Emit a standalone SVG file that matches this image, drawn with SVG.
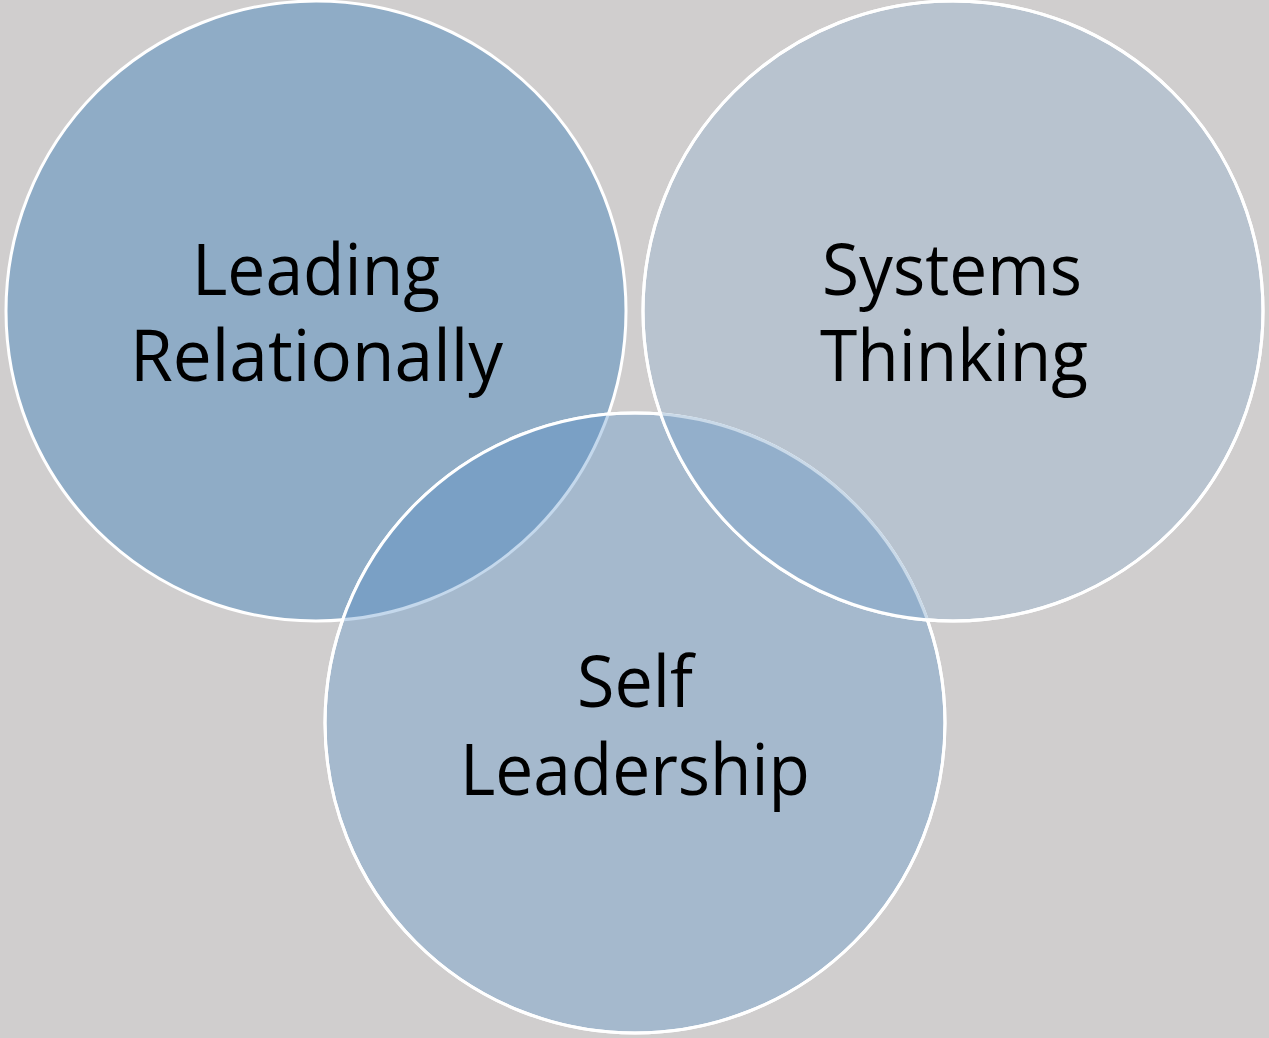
<svg xmlns="http://www.w3.org/2000/svg" width="1269" height="1038" viewBox="0 0 1269 1038">
  <style>
    .edge { stroke: #ffffff; stroke-width: 3; }
    .label { font-family: "Open Sans", "Noto Sans", "Liberation Sans", sans-serif; font-size: 72px; fill: #000000; text-anchor: middle; }
  </style>
  <defs>
    <clipPath id="clipSelf"><circle cx="635" cy="723" r="310"/></clipPath>
    <clipPath id="clipSystems"><circle cx="953" cy="311" r="310"/></clipPath>
  </defs>
  <rect width="1269" height="1038" fill="#d0cece"/>

  <g id="node-leading-relationally">
    <circle cx="316" cy="311" r="310" fill="#8facc6" class="edge"/>
  </g>
  <g id="node-self-leadership">
    <circle cx="635" cy="723" r="310" fill="#a5b9cd" class="edge"/>
  </g>
  <g id="node-systems-thinking">
    <circle cx="953" cy="311" r="310" fill="#b8c3cf" class="edge"/>
  </g>

  <g id="connectors">
    <g id="overlap-leading-self" clip-path="url(#clipSelf)">
      <circle cx="316" cy="311" r="310" fill="#7aa0c5" stroke="#c4d8ec" stroke-width="3"/>
    </g>
    <circle cx="635" cy="723" r="310" fill="none" class="edge"/>
    <g id="overlap-systems-self" clip-path="url(#clipSystems)">
      <circle cx="635" cy="723" r="310" fill="#93afcb" stroke="#c9d9e8" stroke-width="3"/>
    </g>
    <circle cx="953" cy="311" r="310" fill="none" class="edge"/>
  </g>

  <g id="labels">
    <text class="label" x="316" y="295" textLength="248" lengthAdjust="spacingAndGlyphs">Leading</text>
    <text class="label" x="316.5" y="381" textLength="373" lengthAdjust="spacingAndGlyphs">Relationally</text>
    <text class="label" x="952" y="295" textLength="260" lengthAdjust="spacingAndGlyphs">Systems</text>
    <text class="label" x="954" y="381" textLength="268" lengthAdjust="spacingAndGlyphs">Thinking</text>
    <text class="label" x="635" y="707" textLength="116" lengthAdjust="spacingAndGlyphs">Self</text>
    <text class="label" x="635" y="795" textLength="350" lengthAdjust="spacingAndGlyphs">Leadership</text>
  </g>
</svg>
